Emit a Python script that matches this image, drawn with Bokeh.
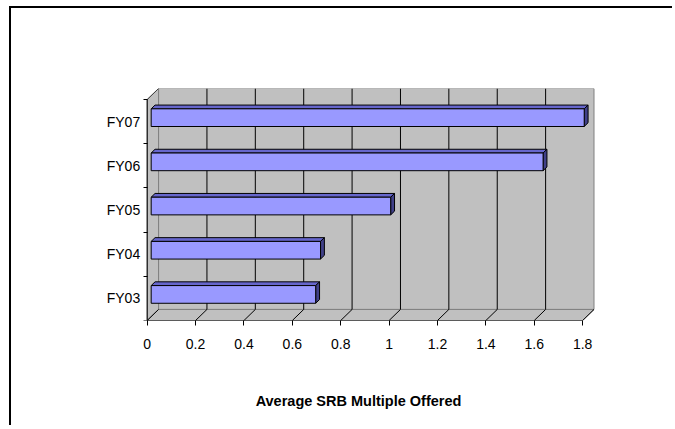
from bokeh.plotting import figure
from bokeh.models import Range1d, FixedTicker
from bokeh.embed import file_html
from bokeh.resources import INLINE

# ---- data ----
categories = ["FY03", "FY04", "FY05", "FY06", "FY07"]
values = [0.68, 0.70, 0.99, 1.62, 1.79]
x_ticks = [0, 0.2, 0.4, 0.6, 0.8, 1, 1.2, 1.4, 1.6, 1.8]
x_tick_labels = ["0", "0.2", "0.4", "0.6", "0.8", "1", "1.2", "1.4", "1.6", "1.8"]
x_title = "Average SRB Multiple Offered"

# ---- styles (3D projection offsets in data units) ----
DX, DY = 0.047, 0.25          # wall depth
BOX, BOY = 0.0165, 0.09       # bar placement inside the depth
BDX, BDY = 0.016, 0.085       # bar depth
BH = 0.40                     # bar thickness
PAD_L, PAD_R = 0.193, 0.140   # white space inside the frame
FONT = "Liberation Sans"
WALL = "#C0C0C0"
WALL_EDGE = "#808080"
FRONT = "#9999FF"
TOP = "#6666CC"
SIDE = "#404088"

n = len(categories)
xmax = x_ticks[-1]

p = figure(width=663, height=419, output_backend="svg", toolbar_location=None,
           x_range=Range1d(-PAD_L, xmax + PAD_R), y_range=Range1d(0, n + DY),
           min_border_left=89, min_border_right=58, min_border_top=80, min_border_bottom=107)
p.margin = (8, 0, 0, 11)
p.styles = {"box-shadow": "-2px -2px 0px 0px black", "overflow": "hidden"}
p.outline_line_color = None
p.xgrid.visible = False
p.ygrid.visible = False
p.background_fill_color = "white"
p.border_fill_color = "white"

# walls
p.patch([DX, xmax + DX, xmax + DX, DX], [DY, DY, n + DY, n + DY],
        fill_color=WALL, line_color=WALL_EDGE, line_width=1)
p.patch([0, DX, DX, 0], [0, DY, n + DY, n],
        fill_color=WALL, line_color=WALL_EDGE, line_width=1)
p.patch([0, xmax, xmax + DX, DX], [0, 0, DY, DY],
        fill_color=WALL, line_color=WALL_EDGE, line_width=1)

# gridlines on back wall and floor
inner = [t for t in x_ticks if 0 < t < xmax]
p.multi_line([[t + DX, t + DX] for t in inner], [[DY, n + DY] for t in inner],
             line_color="black", line_width=1)
p.multi_line([[t, t + DX] for t in x_ticks], [[0, DY] for t in x_ticks],
             line_color="black", line_width=1)
p.line([0, DX], [n, n + DY], line_color="#404040", line_width=1)

# bars
left = [BOX] * n
right = [BOX + v for v in values]
bottom = [i + 0.5 + BOY - BH / 2 for i in range(n)]
top = [i + 0.5 + BOY + BH / 2 for i in range(n)]
p.patches([[l, r, r + BDX, l + BDX] for l, r in zip(left, right)],
          [[t, t, t + BDY, t + BDY] for t in top],
          fill_color=TOP, line_color="black", line_width=1)
p.patches([[r, r + BDX, r + BDX, r] for r in right],
          [[b, b + BDY, t + BDY, t] for b, t in zip(bottom, top)],
          fill_color=SIDE, line_color="black", line_width=1)
p.quad(left=left, right=right, bottom=bottom, top=top,
       fill_color=FRONT, line_color="black", line_width=1)

# front axis lines
p.line([x_ticks[0], xmax], [0, 0], line_color="black", line_width=1)
p.line([0, 0], [0, n], line_color="black", line_width=1)

# x axis
xa = p.xaxis[0]
xa.ticker = FixedTicker(ticks=x_ticks, minor_ticks=[])
xa.major_label_overrides = {t: s for t, s in zip(x_ticks, x_tick_labels)}
xa.axis_line_color = None
xa.major_tick_out = 5
xa.major_tick_in = 0
xa.major_tick_line_color = "black"
xa.major_label_standoff = 13
xa.major_label_text_font = FONT
xa.major_label_text_font_size = "14px"
xa.major_label_text_color = "black"
xa.axis_label = x_title
xa.axis_label_standoff = 41
xa.axis_label_text_font = FONT
xa.axis_label_text_font_size = "14.5px"
xa.axis_label_text_font_style = "bold"
xa.axis_label_text_color = "black"

# y axis, pinned at x = 0
ya = p.yaxis[0]
ya.fixed_location = 0
centers = [i + 0.5 for i in range(n)]
ya.ticker = FixedTicker(ticks=centers, minor_ticks=list(range(n + 1)))
ya.major_label_overrides = {c: s for c, s in zip(centers, categories)}
ya.axis_line_color = None
ya.major_tick_out = 0
ya.major_tick_in = 0
ya.minor_tick_out = 4
ya.minor_tick_in = 0
ya.minor_tick_line_color = "black"
ya.major_label_standoff = 3
ya.major_label_text_font = FONT
ya.major_label_text_font_size = "14px"
ya.major_label_text_color = "black"

open("out.html", "w").write(file_html(p, INLINE))
